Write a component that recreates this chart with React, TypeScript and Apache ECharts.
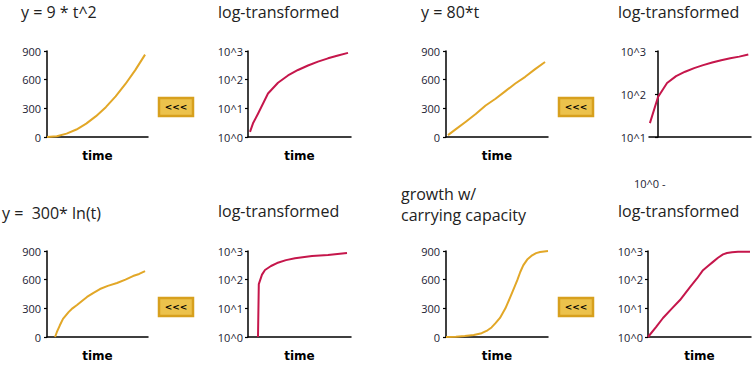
import React, { useEffect, useRef } from "react";
import * as echarts from "echarts";

// ---- data ----
const t1 = [0, 1, 2, 3, 4, 5, 6, 7, 8, 9, 10];
const v1 = [0, 8, 35, 78, 140, 218, 312, 425, 555, 700, 862];

const t2 = [0.2, 0.5, 1, 2, 3, 4, 5, 6, 7, 8, 9, 10];
const v2 = [1.5, 3, 6.5, 33, 78, 140, 218, 312, 425, 555, 700, 862];

const t3 = [0.2, 1, 2, 3, 4, 5, 6, 7, 8, 9, 10];
const v3 = [20, 82, 160, 240, 330, 400, 480, 560, 630, 710, 785];

const t4 = [-0.9, 0, 1, 2, 3, 4, 5, 6, 7, 8, 9, 10];
const v4 = [21, 85, 180, 260, 330, 400, 470, 540, 610, 680, 740, 830];

const t5 = [0.82, 1.0, 1.3, 1.63, 2.2, 2.6, 3.06, 3.6, 4.08, 4.7, 5.4, 6.2, 7.14, 8.0, 8.77, 9.4, 10];
const v5 = [0, 50, 120, 190, 260, 300, 335, 380, 419, 460, 502, 535, 565, 600, 638, 660, 690];

const t6 = [1.0, 1.08, 1.4, 1.7, 2.3, 2.9, 3.8, 4.7, 6.4, 8.0, 9.9];
const v6 = [1, 70, 150, 218, 300, 380, 480, 556, 670, 725, 850];

const t7 = [0, 1, 1.9, 2.8, 3.6, 4.2, 4.6, 5.0, 5.45, 6.0, 6.5, 6.9, 7.2, 7.5, 7.8, 8.2, 8.7, 9.1, 9.5, 10.3];
const v7 = [0, 3, 10, 22, 40, 70, 100, 145, 200, 300, 420, 520, 595, 680, 750, 810, 855, 878, 890, 900];

const t8 = [0, 0.8, 1.5, 2.4, 3.2, 4.2, 4.9, 5.5, 6.0, 6.5, 7.0, 7.5, 7.9, 8.4, 9.0, 10.2];
const v8 = [1, 2.2, 4.6, 10, 19.5, 55, 110, 214, 300, 417, 580, 760, 850, 910, 940, 945];

const linearTicks = [0, 300, 600, 900];
const logLabels = ["10^0", "10^1", "10^2", "10^3"];

const titles = [
  { text: "y = 9 * t^2", x: 21, y: 12 },
  { text: "log-transformed", x: 218, y: 12 },
  { text: "y = 80*t", x: 421, y: 12 },
  { text: "log-transformed", x: 618, y: 12 },
  { text: "y =  300* ln(t)", x: 2, y: 213 },
  { text: "log-transformed", x: 218, y: 211 },
  { text: "growth w/", x: 401, y: 194 },
  { text: "carrying capacity", x: 401, y: 214.5 },
  { text: "log-transformed", x: 618, y: 211 },
];

const GOLD = "#E2A727";
const CRIMSON = "#C5164B";
const FONT = "'Open Sans', sans-serif";

export default function App() {
  const ref = useRef<HTMLDivElement>(null);

  useEffect(() => {
    if (!ref.current) return;
    const chart = echarts.init(ref.current, null, { renderer: "svg" });

    const grids = [
      { left: 47, top: 51, width: 101, height: 86 },
      { left: 248, top: 51, width: 103, height: 86 },
      { left: 446, top: 51, width: 102, height: 86 },
      { left: 649, top: 51, width: 102, height: 86 },
      { left: 47, top: 251, width: 101, height: 86 },
      { left: 248, top: 251, width: 103, height: 86 },
      { left: 446, top: 251, width: 102, height: 86 },
      { left: 648, top: 251, width: 103, height: 86 },
    ];
    const kinds = ["lin", "log", "lin", "log4", "lin", "log", "lin", "log"];
    const ts = [t1, t2, t3, t4, t5, t6, t7, t8];
    const vs = [v1, v2, v3, v4, v5, v6, v7, v8];

    const axisLine = { show: true, onZero: true, lineStyle: { color: "#000", width: 1.5 } };
    const labelStyle = { color: "#1c1c33", fontSize: 11, fontFamily: FONT };

    const xAxis = grids.map((_, i) => ({
      type: "value",
      gridIndex: i,
      min: i === 3 ? -1 : 0,
      max: 10.3,
      axisLine,
      axisTick: { show: false },
      axisLabel: { show: false },
      splitLine: { show: false },
      name: i === 3 ? "" : "time",
      nameLocation: "middle",
      nameGap: 13,
      nameTextStyle: {
        fontFamily: "'DejaVu Sans', sans-serif",
        fontWeight: "bold",
        fontSize: 12,
        color: "#000",
      },
    }));

    const yAxis = grids.map((_, i) => {
      const k = kinds[i];
      if (k === "lin") {
        return {
          type: "value",
          gridIndex: i,
          min: linearTicks[0],
          max: linearTicks[linearTicks.length - 1],
          interval: 300,
          axisLine,
          axisTick: { show: true, length: 3, lineStyle: { color: "#000", width: 1.2 } },
          axisLabel: { ...labelStyle, margin: 6 },
          splitLine: { show: false },
        };
      }
      return {
        type: "log",
        logBase: 10,
        gridIndex: i,
        min: k === "log4" ? 10 : 1,
        max: 1000,
        axisLine,
        axisTick: { show: true, length: 3, lineStyle: { color: "#000", width: 1.2 } },
        axisLabel: {
          ...labelStyle,
          margin: k === "log4" ? 3 : 5,
          formatter: (v: number) => logLabels[Math.round(Math.log10(v))],
        },
        splitLine: { show: false },
      };
    });

    const series = grids.map((_, i) => ({
      type: "line",
      xAxisIndex: i,
      yAxisIndex: i,
      data: ts[i].map((t, j) => [t, vs[i][j]]),
      symbol: "none",
      smooth: false,
      clip: false,
      lineStyle: { color: kinds[i] === "lin" ? GOLD : CRIMSON, width: 2, join: "round" },
      itemStyle: { color: kinds[i] === "lin" ? GOLD : CRIMSON },
    }));

    const buttons = [
      [159, 98],
      [559, 98],
      [159, 298],
      [559, 298],
    ].map(([x, y]) => ({
      type: "group",
      x,
      y,
      children: [
        {
          type: "rect",
          shape: { x: 0, y: 0, width: 34, height: 18 },
          style: { fill: "#ECC24C", stroke: "#D7A01E", lineWidth: 2.5 },
        },
        {
          type: "text",
          x: 17,
          y: 9,
          style: {
            text: "<<<",
            fill: "#000",
            font: "bold 9px 'DejaVu Sans', sans-serif",
            textAlign: "center",
            textVerticalAlign: "middle",
          },
        },
      ],
    }));

    const titleEls = titles.map((t) => ({
      type: "text",
      x: t.x,
      y: t.y,
      style: {
        text: t.text,
        fill: "#222",
        font: `16px ${FONT}`,
        lineHeight: 17,
        textAlign: "left",
        textVerticalAlign: "middle",
      },
    }));

    const extra = [
      {
        type: "text",
        x: 634,
        y: 183,
        style: {
          text: "10^0 -",
          fill: "#1c1c33",
          font: `11px ${FONT}`,
          textAlign: "left",
          textVerticalAlign: "middle",
        },
      },
    ];

    chart.setOption({
      animation: false,
      backgroundColor: "#fff",
      grid: grids,
      xAxis,
      yAxis,
      series,
      graphic: [...titleEls, ...buttons, ...extra],
    } as any);

    return () => chart.dispose();
  }, []);

  return (
    <div
      ref={ref}
      style={{ position: "fixed", left: 0, top: 0, width: 755, height: 368 }}
    />
  );
}
